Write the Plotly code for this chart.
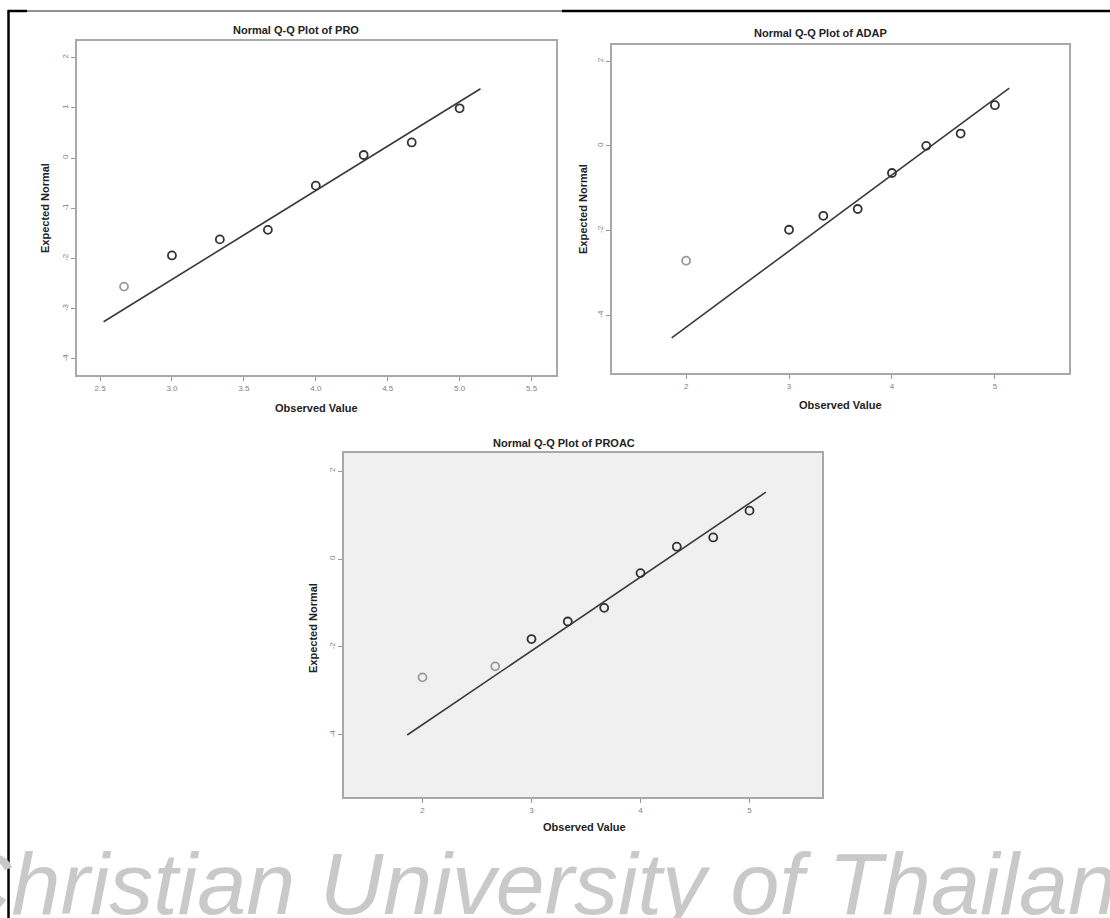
import plotly.graph_objects as go

W, H = 1110, 918

# ---------------- data ----------------
pro_obs = [2.667, 3.0, 3.333, 3.667, 4.0, 4.333, 4.667, 5.0]
pro_exp = [-2.56, -1.94, -1.62, -1.43, -0.55, 0.06, 0.31, 0.99]
pro_line_x = [2.525, 5.145]
pro_line_y = [-3.26, 1.38]

adap_obs = [2.0, 3.0, 3.333, 3.667, 4.0, 4.333, 4.667, 5.0]
adap_exp = [-2.71, -1.98, -1.65, -1.49, -0.64, 0.0, 0.29, 0.96]
adap_line_x = [1.86, 5.14]
adap_line_y = [-4.53, 1.36]

proac_obs = [2.0, 2.667, 3.0, 3.333, 3.667, 4.0, 4.333, 4.667, 5.0]
proac_exp = [-2.69, -2.44, -1.82, -1.42, -1.11, -0.32, 0.28, 0.49, 1.10]
proac_line_x = [1.86, 5.15]
proac_line_y = [-4.0, 1.52]

pro_xticks = [2.5, 3.0, 3.5, 4.0, 4.5, 5.0, 5.5]
pro_xlabels = ["2.5", "3.0", "3.5", "4.0", "4.5", "5.0", "5.5"]
pro_yticks = [2, 1, 0, -1, -2, -3, -4]
int_xticks = [2, 3, 4, 5]
even_yticks = [2, 0, -2, -4]

titles = ["Normal Q-Q Plot of PRO", "Normal Q-Q Plot of ADAP", "Normal Q-Q Plot of PROAC"]
x_title = "Observed Value"
y_title = "Expected Normal"
watermark = "Christian University of Thailand"

# ---------------- helpers ----------------
def px(x):
    return x / W

def py(y):
    return 1 - y / H

DARK = "#333333"
LIGHT = "#9a9a9a"
FRAME = "#a8a8a8"
FONT = "Liberation Sans, Arial, sans-serif"

fig = go.Figure()

panels = [
    dict(obs=pro_obs, exp=pro_exp, lx=pro_line_x, ly=pro_line_y, n_light=1,
         box=(77, 556, 41, 375), xr=[2.34, 5.67], yr=[-4.32, 2.33],
         xt=pro_xticks, xl=pro_xlabels, yt=pro_yticks, bg="white",
         title_xy=(296, 30), xt_xy=(316, 408), yt_xy=(45, 208)),
    dict(obs=adap_obs, exp=adap_exp, lx=adap_line_x, ly=adap_line_y, n_light=1,
         box=(612, 1069, 45, 373), xr=[1.28, 5.72], yr=[-5.36, 2.38],
         xt=int_xticks, xl=[str(v) for v in int_xticks], yt=even_yticks, bg="white",
         title_xy=(820, 33), xt_xy=(840, 405), yt_xy=(583, 209)),
    dict(obs=proac_obs, exp=proac_exp, lx=proac_line_x, ly=proac_line_y, n_light=2,
         box=(344, 822, 453, 797), xr=[1.28, 5.665], yr=[-5.41, 2.41],
         xt=int_xticks, xl=[str(v) for v in int_xticks], yt=even_yticks, bg="#f0f0f0",
         title_xy=(564, 443), xt_xy=(584, 827), yt_xy=(313, 628)),
]

layout = {}
shapes = []
annotations = []

for i, p in enumerate(panels, start=1):
    xa = "x" if i == 1 else f"x{i}"
    ya = "y" if i == 1 else f"y{i}"
    xl_, xr_, yt_, yb_ = p["box"]

    # Q-Q reference line
    fig.add_trace(go.Scatter(x=p["lx"], y=p["ly"], mode="lines",
                             line=dict(color="#3a3a3a", width=1.6),
                             xaxis=xa, yaxis=ya, showlegend=False, hoverinfo="skip"))
    # points
    colors = [LIGHT if k < p["n_light"] else DARK for k in range(len(p["obs"]))]
    fig.add_trace(go.Scatter(x=p["obs"], y=p["exp"], mode="markers",
                             marker=dict(symbol="circle-open", size=8,
                                         color=colors, line=dict(width=1.8, color=colors)),
                             xaxis=xa, yaxis=ya, showlegend=False))

    # plot background
    shapes.append(dict(type="rect", xref="paper", yref="paper",
                       x0=px(xl_), x1=px(xr_), y0=py(yb_), y1=py(yt_),
                       fillcolor=p["bg"], line=dict(width=0), layer="below"))

    layout["xaxis" if i == 1 else f"xaxis{i}"] = dict(
        domain=[px(xl_), px(xr_)], range=p["xr"], anchor=ya,
        tickvals=p["xt"], ticktext=p["xl"], ticks="outside", ticklen=4,
        tickcolor="#999999", tickwidth=1,
        tickfont=dict(family=FONT, size=8, color="#808080"),
        showgrid=False, zeroline=False, showline=True, mirror=True,
        linecolor=FRAME, linewidth=2)
    layout["yaxis" if i == 1 else f"yaxis{i}"] = dict(
        domain=[py(yb_), py(yt_)], range=p["yr"], anchor=xa,
        tickvals=p["yt"], ticktext=[str(v) for v in p["yt"]], ticks="outside", ticklen=4,
        tickcolor="#999999", tickwidth=1, tickangle=-90,
        tickfont=dict(family=FONT, size=8, color="#808080"),
        showgrid=False, zeroline=False, showline=True, mirror=True,
        linecolor=FRAME, linewidth=2)

    tx, ty = p["title_xy"]
    annotations.append(dict(text=f"<b>{titles[i-1]}</b>", x=px(tx), y=py(ty),
                            xref="paper", yref="paper", showarrow=False,
                            xanchor="center", yanchor="middle",
                            font=dict(family=FONT, size=11, color="#222222")))
    ox, oy = p["xt_xy"]
    annotations.append(dict(text=f"<b>{x_title}</b>", x=px(ox), y=py(oy),
                            xref="paper", yref="paper", showarrow=False,
                            xanchor="center", yanchor="middle",
                            font=dict(family=FONT, size=11, color="#222222")))
    ex, ey = p["yt_xy"]
    annotations.append(dict(text=f"<b>{y_title}</b>", x=px(ex), y=py(ey),
                            xref="paper", yref="paper", showarrow=False, textangle=-90,
                            xanchor="center", yanchor="middle",
                            font=dict(family=FONT, size=11, color="#222222")))

# page border lines
shapes += [
    dict(type="line", xref="paper", yref="paper", x0=px(8.5), x1=px(8.5), y0=py(10), y1=py(918),
         line=dict(color="black", width=2.5)),
    dict(type="line", xref="paper", yref="paper", x0=px(8), x1=px(27), y0=py(11), y1=py(11),
         line=dict(color="black", width=2.5)),
    dict(type="line", xref="paper", yref="paper", x0=px(27), x1=px(562), y0=py(11), y1=py(11),
         line=dict(color="#222222", width=1)),
    dict(type="line", xref="paper", yref="paper", x0=px(562), x1=px(1110), y0=py(11), y1=py(11),
         line=dict(color="black", width=2.5)),
]

annotations.append(dict(text=watermark, x=px(-54), y=py(883), xref="paper", yref="paper",
                        showarrow=False, xanchor="left", yanchor="middle",
                        font=dict(family="Liberation Sans Narrow, Liberation Sans, sans-serif",
                                  size=88, color="#c9c9c9", style="italic")))

fig.update_layout(width=W, height=H, margin=dict(l=0, r=0, t=0, b=0),
                  paper_bgcolor="white", plot_bgcolor="rgba(0,0,0,0)",
                  shapes=shapes, annotations=annotations, **layout)

fig.write_html("out.html")
